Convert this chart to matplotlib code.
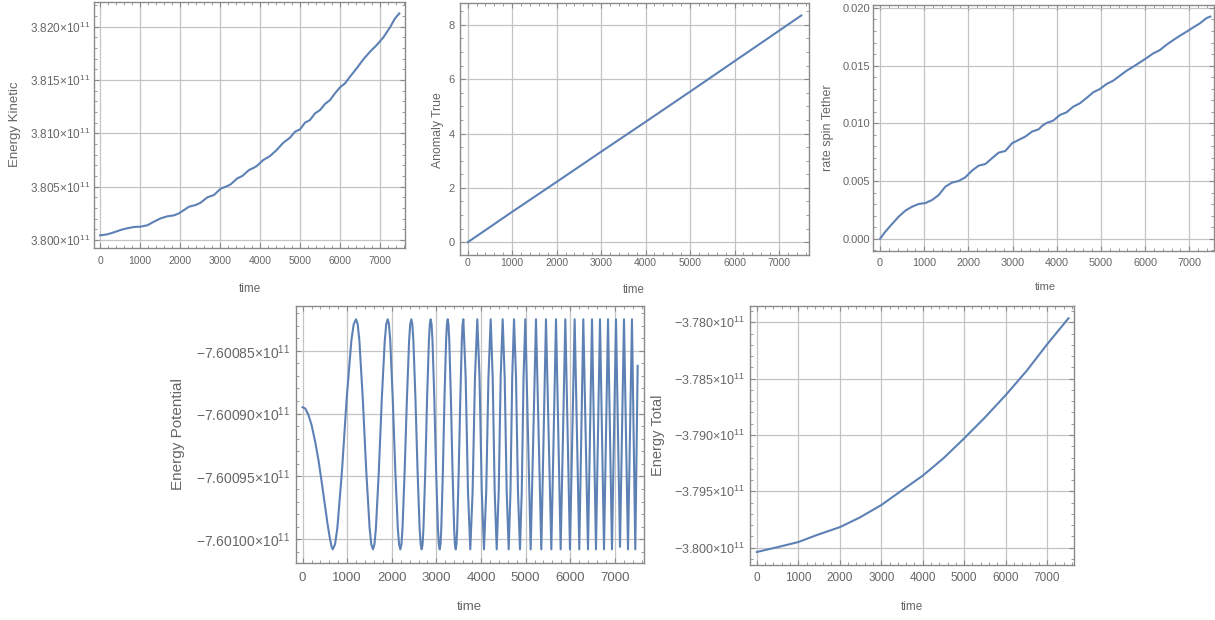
import numpy as np
import matplotlib
matplotlib.use("Agg")
import matplotlib.pyplot as plt
from matplotlib.ticker import MultipleLocator, FixedLocator, FuncFormatter

plt.rcParams['font.family'] = ['Liberation Sans', 'DejaVu Sans']
plt.rcParams['mathtext.fontset'] = 'custom'
plt.rcParams['mathtext.rm'] = 'Liberation Sans'
plt.rcParams['mathtext.default'] = 'regular'

# ---- data ----
time_ticks = [0, 1000, 2000, 3000, 4000, 5000, 6000, 7000]

# kinetic energy (x 1e11)
ke_time = [0, 178, 345, 512, 678, 845, 1012, 1178, 1345, 1512,
           1678, 1845, 1970, 2095, 2220, 2387, 2512, 2678, 2845, 3012,
           3178, 3262, 3428, 3553, 3720, 3845, 3912, 4078, 4245, 4412,
           4578, 4745, 4870, 4995, 5120, 5245, 5370, 5495, 5620, 5745,
           5870, 5995, 6120, 6245, 6412, 6578, 6745, 6912, 7078, 7245,
           7370, 7478]
ke_value = [3.80044, 3.80053, 3.80072, 3.80094, 3.80110, 3.80122, 3.80125, 3.80138, 3.80172, 3.80203,
            3.80222, 3.80231, 3.80250, 3.80281, 3.80312, 3.80328, 3.80350, 3.80400, 3.80422, 3.80481,
            3.80506, 3.80522, 3.80578, 3.80600, 3.80656, 3.80678, 3.80693, 3.80750, 3.80787, 3.80844,
            3.80912, 3.80959, 3.81015, 3.81037, 3.81100, 3.81125, 3.81187, 3.81218, 3.81275, 3.81312,
            3.81375, 3.81431, 3.81468, 3.81531, 3.81609, 3.81693, 3.81765, 3.81827, 3.81899, 3.81993,
            3.82077, 3.82124]
ke_ticks = [3.800, 3.805, 3.810, 3.815, 3.820]

# true anomaly
an_time = [0, 1000, 2000, 3000, 4000, 5000, 6000, 7000, 7500]
an_value = [0.0, 1.12, 2.22, 3.33, 4.43, 5.54, 6.66, 7.78, 8.34]
an_ticks = [0, 2, 4, 6, 8]

# tether spin rate
sp_time = [0, 118, 269, 420, 571, 722, 873, 1024, 1175, 1326,
           1477, 1627, 1778, 1929, 2080, 2231, 2382, 2533, 2684, 2835,
           2986, 3137, 3288, 3439, 3590, 3665, 3769, 3919, 4070, 4221,
           4372, 4522, 4673, 4824, 4975, 5125, 5276, 5427, 5578, 5729,
           5879, 6030, 6181, 6332, 6482, 6633, 6784, 6935, 7085, 7236,
           7387, 7477]
sp_value = [0.0, 0.00061, 0.00127, 0.00191, 0.00243, 0.00277, 0.00301, 0.00309, 0.00335, 0.00378,
            0.00451, 0.00486, 0.00500, 0.00532, 0.00590, 0.00633, 0.00647, 0.00697, 0.00746, 0.00760,
            0.00827, 0.00856, 0.00885, 0.00928, 0.00948, 0.00977, 0.01003, 0.01023, 0.01072, 0.01095,
            0.01144, 0.01173, 0.01219, 0.01268, 0.01297, 0.01340, 0.01369, 0.01412, 0.01455, 0.01490,
            0.01527, 0.01565, 0.01605, 0.01634, 0.01680, 0.01720, 0.01758, 0.01793, 0.01830, 0.01865,
            0.01911, 0.01925]
sp_ticks = [0.000, 0.005, 0.010, 0.015, 0.020]

# potential energy (x 1e11), one row per half swing
pe_time = [
    0, 60, 130, 200, 280, 360, 430, 500, 560, 610, 650, 675,
    727, 779, 884, 988, 1093, 1145, 1197,
    1235, 1273, 1349, 1426, 1502, 1540, 1578,
    1611, 1644, 1710, 1776, 1842, 1875, 1908,
    1936, 1965, 2021, 2078, 2134, 2163, 2191,
    2216, 2240, 2289, 2339, 2388, 2412, 2437,
    2460, 2484, 2530, 2577, 2623, 2647, 2670,
    2690, 2710, 2751, 2791, 2832, 2852, 2872,
    2892, 2912, 2953, 2993, 3034, 3054, 3074,
    3092, 3110, 3146, 3181, 3217, 3235, 3253,
    3271, 3289, 3325, 3361, 3397, 3415, 3433,
    3450, 3467, 3501, 3536, 3570, 3587, 3604,
    3656, 3708, 3760,
    3812, 3865, 3917,
    3967, 4017, 4067,
    4117, 4167, 4217,
    4262, 4307, 4352,
    4397, 4441, 4486,
    4531, 4576, 4621,
    4661, 4700, 4740,
    4785, 4829, 4874,
    4914, 4954, 4994,
    5114, 5233, 5352, 5457, 5577, 5682, 5786, 5891, 5995, 6100,
    6204, 6294, 6399, 6489, 6578, 6668, 6758, 6848, 6937, 7027,
    7117, 7206, 7296, 7385, 7460, 7513]
pe_value = [
    -7.600895, -7.600896, -7.600901, -7.600909, -7.600922, -7.600938,
    -7.600955, -7.600973, -7.600988, -7.600999, -7.601006, -7.601008,
    -7.601004, -7.600991, -7.600945, -7.600888, -7.600842, -7.600829, -7.600825,
    -7.600829, -7.600842, -7.600888, -7.600945, -7.600991, -7.601004, -7.601008,
    -7.601004, -7.600991, -7.600945, -7.600888, -7.600842, -7.600829, -7.600825,
    -7.600829, -7.600842, -7.600888, -7.600945, -7.600991, -7.601004, -7.601008,
    -7.601004, -7.600991, -7.600945, -7.600888, -7.600842, -7.600829, -7.600825,
    -7.600829, -7.600842, -7.600888, -7.600945, -7.600991, -7.601004, -7.601008,
    -7.601004, -7.600991, -7.600945, -7.600888, -7.600842, -7.600829, -7.600825,
    -7.600829, -7.600842, -7.600888, -7.600945, -7.600991, -7.601004, -7.601008,
    -7.601004, -7.600991, -7.600945, -7.600888, -7.600842, -7.600829, -7.600825,
    -7.600829, -7.600842, -7.600888, -7.600945, -7.600991, -7.601004, -7.601008,
    -7.601004, -7.600991, -7.600945, -7.600888, -7.600842, -7.600829, -7.600825,
    -7.600871, -7.600962, -7.601008,
    -7.600962, -7.600871, -7.600825,
    -7.600871, -7.600962, -7.601008,
    -7.600962, -7.600871, -7.600825,
    -7.600871, -7.600962, -7.601008,
    -7.600962, -7.600871, -7.600825,
    -7.600871, -7.600962, -7.601008,
    -7.600962, -7.600871, -7.600825,
    -7.600871, -7.600962, -7.601008,
    -7.600962, -7.600871, -7.600825,
    -7.601008, -7.600825, -7.601008, -7.600825, -7.601008,
    -7.600825, -7.601008, -7.600825, -7.601008, -7.600825,
    -7.601008, -7.600825, -7.601008, -7.600825, -7.601008,
    -7.600825, -7.601008, -7.600825, -7.601008, -7.600825,
    -7.601006, -7.600825, -7.601008, -7.600825, -7.601008, -7.600862]
pe_ticks = [-7.60100, -7.60095, -7.60090, -7.60085]

# total energy (x 1e11)
te_time = [0, 477, 1000, 1443, 2006, 2489, 3004, 3535, 4001, 4500, 5000, 5506, 6005, 6512, 7003, 7518]
te_value = [-3.80038, -3.79997, -3.79950, -3.79888, -3.79817, -3.79731, -3.79621, -3.79482,
            -3.79361, -3.79207, -3.79030, -3.78843, -3.78645, -3.78429, -3.78195, -3.77964]
te_ticks = [-3.800, -3.795, -3.790, -3.785, -3.780]

LINE = '#5e81b5'
FRAME = '#8a8a8a'
GRID = '#c4c4c4'
TEXT = '#666666'
W, H = 1215, 620


def box(x0, y0, x1, y1):
    # pixel box (top-left origin) -> figure fraction
    return [x0 / W, 1 - y1 / H, (x1 - x0) / W, (y1 - y0) / H]


def sci(decimals):
    def f(v, pos):
        s = f"{v / 1e11:.{decimals}f}".replace('-', '\u2212')
        return s + "\u00d710$^{11}$"
    return FuncFormatter(f)


def dress(ax, ylabel, xfs, yfs, xlfs, ylfs, xpad, ypad, xlab_pos, ylab_pos, yminor):
    for s in ax.spines.values():
        s.set_color(FRAME)
        s.set_linewidth(1.0)
    ax.xaxis.set_major_locator(FixedLocator(time_ticks))
    ax.xaxis.set_minor_locator(MultipleLocator(200))
    ax.yaxis.set_minor_locator(MultipleLocator(yminor))
    ax.tick_params(which='both', direction='in', top=True, right=True, color=FRAME)
    ax.tick_params(which='major', length=3.5, width=0.8)
    ax.tick_params(which='minor', length=2.0, width=0.6)
    ax.tick_params(axis='x', labelsize=xfs, pad=xpad, labelcolor=TEXT)
    ax.tick_params(axis='y', labelsize=yfs, pad=ypad, labelcolor=TEXT)
    ax.grid(True, which='major', color=GRID, lw=0.9)
    ax.set_axisbelow(True)
    ax.set_xlabel('time', fontsize=xlfs, color=TEXT, va='center')
    ax.set_ylabel(ylabel, fontsize=ylfs, color=TEXT, va='center')
    ax.xaxis.set_label_coords(*xlab_pos)
    ax.yaxis.set_label_coords(*ylab_pos)


fig = plt.figure(figsize=(W / 100, H / 100), dpi=100)

# kinetic energy
ax1 = fig.add_axes(box(94, 2, 405, 248))
ax1.plot(ke_time, np.array(ke_value) * 1e11, color=LINE, lw=1.5)
ax1.set_xlim(-155, 7620)
ax1.set_ylim(3.79925e11, 3.82231e11)
ax1.yaxis.set_major_locator(FixedLocator(np.array(ke_ticks) * 1e11))
ax1.yaxis.set_major_formatter(sci(3))
dress(ax1, 'Energy Kinetic', 7.5, 8.5, 8.5, 9.5, 5.5, 2.4, (0.502, -0.167), (-0.254, 0.504), 1e8)

# true anomaly
ax2 = fig.add_axes(box(460, 3, 809, 255))
ax2.plot(an_time, an_value, color=LINE, lw=1.5)
ax2.set_xlim(-173, 7674)
ax2.set_ylim(-0.468, 8.80)
ax2.yaxis.set_major_locator(FixedLocator(an_ticks))
dress(ax2, 'Anomaly True', 7.5, 8, 8.3, 8.8, 1.8, 3.6, (0.499, -0.139), (-0.063, 0.496), 0.5)

# tether spin rate
ax3 = fig.add_axes(box(872.7, 5, 1214, 250.7))
ax3.plot(sp_time, sp_value, color=LINE, lw=1.5)
ax3.set_xlim(-168, 7559)
ax3.set_ylim(-0.00104, 0.02025)
ax3.yaxis.set_major_locator(FixedLocator(sp_ticks))
ax3.yaxis.set_major_formatter(FuncFormatter(lambda v, p: f"{v:.3f}"))
dress(ax3, 'rate spin Tether', 7.8, 8, 8, 9, 5.5, 2.0, (0.506, -0.148), (-0.131, 0.5), 0.001)

# potential energy
ax4 = fig.add_axes(box(295.7, 305.7, 644, 563.3))
ax4.plot(pe_time, np.array(pe_value) * 1e11, color=LINE, lw=1.5)
ax4.set_xlim(-155, 7655)
ax4.set_ylim(-7.6010191e11, -7.6008142e11)
ax4.yaxis.set_major_locator(FixedLocator(np.array(pe_ticks) * 1e11))
ax4.yaxis.set_major_formatter(sci(5))
dress(ax4, 'Energy Potential', 9.5, 10, 9.5, 11, 6.0, 4.1, (0.5, -0.168), (-0.338, 0.502), 1e6)

# total energy
ax5 = fig.add_axes(box(750, 305.7, 1074.3, 565))
ax5.plot(te_time, np.array(te_value) * 1e11, color=LINE, lw=1.5)
ax5.set_xlim(-166, 7658)
ax5.set_ylim(-3.801536e11, -3.778526e11)
ax5.yaxis.set_major_locator(FixedLocator(np.array(te_ticks) * 1e11))
ax5.yaxis.set_major_formatter(sci(3))
dress(ax5, 'Energy Total', 8.5, 9, 8.5, 10.5, 4.8, 3.6, (0.5, -0.161), (-0.284, 0.499), 1e8)

fig.savefig('out.png', dpi=100)
